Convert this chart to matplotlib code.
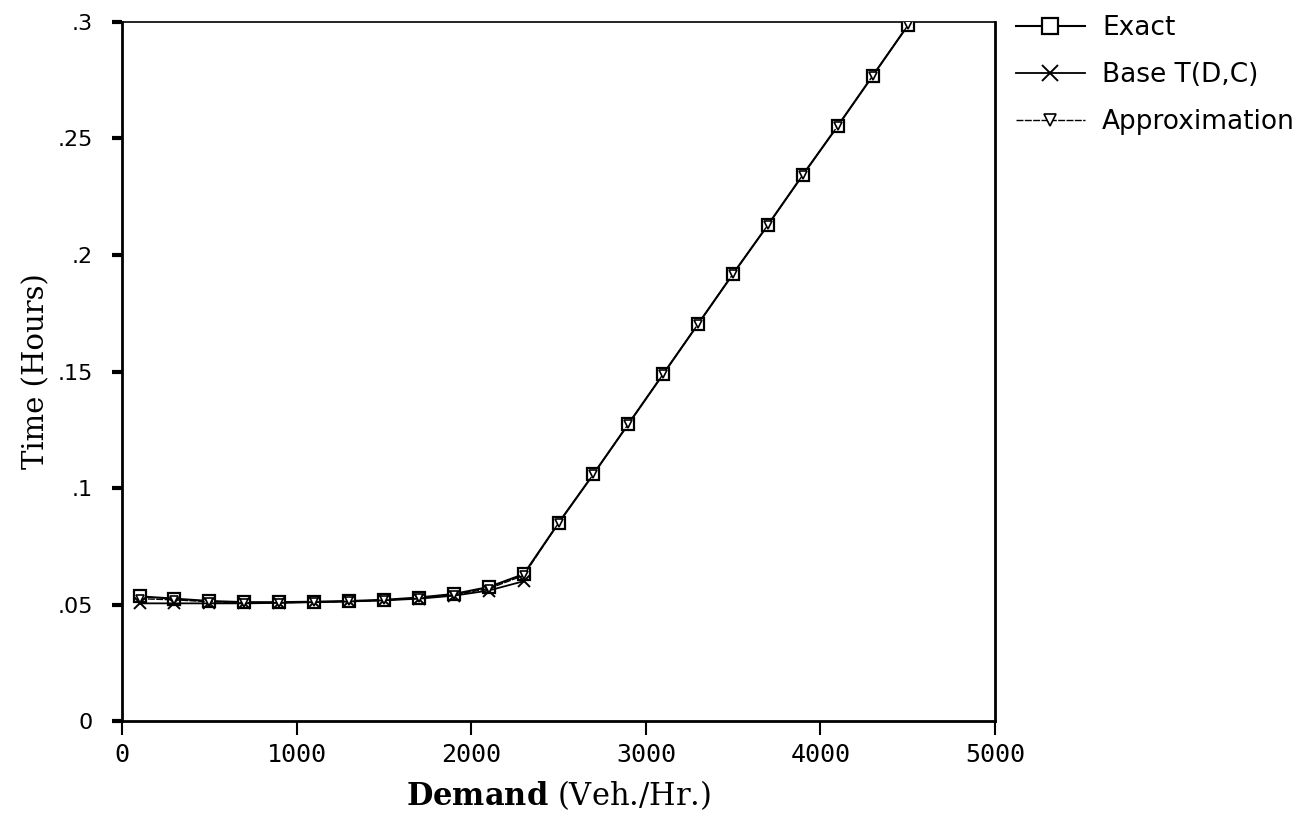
import numpy as np
import matplotlib
matplotlib.use("Agg")
import matplotlib.pyplot as plt
from matplotlib.ticker import FuncFormatter

plt.rcParams["mathtext.fontset"] = "dejavuserif"

# demand levels (veh/hr) and travel time results (hours)
demand = [100, 300, 500, 700, 900, 1100, 1300, 1500, 1700, 1900, 2100, 2300,
          2500, 2700, 2900, 3100, 3300, 3500, 3700, 3900, 4100, 4300, 4500]
exact = [0.0535, 0.0525, 0.0515, 0.0510, 0.0510, 0.0512, 0.0515, 0.0520, 0.0530,
         0.0545, 0.0575, 0.0630, 0.0850, 0.1060, 0.1275, 0.1490, 0.1705, 0.1920,
         0.2130, 0.2345, 0.2555, 0.2770, 0.2985]
base_demand = [100, 300, 500, 700, 900, 1100, 1300, 1500, 1700, 1900, 2100, 2300]
base = [0.0505, 0.0505, 0.0505, 0.0505, 0.0507, 0.0510, 0.0513, 0.0518, 0.0525,
        0.0538, 0.0560, 0.0600]
approx = [0.0525, 0.0520, 0.0512, 0.0508, 0.0508, 0.0510, 0.0513, 0.0518, 0.0527,
          0.0542, 0.0568, 0.0625, 0.0850, 0.1060, 0.1275, 0.1490, 0.1705, 0.1920,
          0.2130, 0.2345, 0.2555, 0.2770, 0.2985]

fig = plt.figure(figsize=(12.93, 8.23), dpi=100)
ax = fig.add_axes([0.0944, 0.1239, 0.6752, 0.8494])

ax.plot(demand, exact, color="black", lw=1.5, marker="s", ms=9,
        mfc="white", mec="black", mew=1.6, label="Exact", zorder=3)
ax.plot(base_demand, base, color="black", lw=1.3, marker="x", ms=9,
        mew=1.4, label="Base T(D,C)", zorder=4)
ax.plot(demand, approx, color="black", lw=1.0, ls=(0, (5, 1)), marker="v", ms=6,
        mfc="white", mec="black", mew=1.2, label="Approximation", zorder=5)

ax.set_xlim(0, 5000)
ax.set_ylim(0, 0.3)
ax.set_xticks([0, 1000, 2000, 3000, 4000, 5000])
ax.set_yticks([0, 0.05, 0.1, 0.15, 0.2, 0.25, 0.3])
ax.yaxis.set_major_formatter(FuncFormatter(
    lambda v, p: "0" if v == 0 else ("%g" % v).lstrip("0")))

ax.tick_params(axis="x", direction="out", length=10, width=1.5, pad=6,
               labelsize=18)
ax.tick_params(axis="y", direction="out", length=7, width=3, pad=14,
               labelsize=16)
for lab in ax.get_xticklabels():
    lab.set_family("DejaVu Sans Mono")

for side in ["left", "bottom", "right"]:
    ax.spines[side].set_linewidth(2)
ax.spines["top"].set_linewidth(1.2)

ax.set_ylabel("Time (Hours)", family="DejaVu Serif", fontsize=21, labelpad=5)
ax.set_xlabel(r"$\mathbf{Demand}$ (Veh./Hr.)", family="DejaVu Serif",
              fontsize=22, labelpad=8)

ax.legend(loc="upper left", bbox_to_anchor=(1.012, 1.025), frameon=False,
          fontsize=19, handlelength=2.6, handletextpad=0.65, labelspacing=0.8,
          borderaxespad=0, markerscale=1.35)

fig.savefig("out.png", dpi=100)
